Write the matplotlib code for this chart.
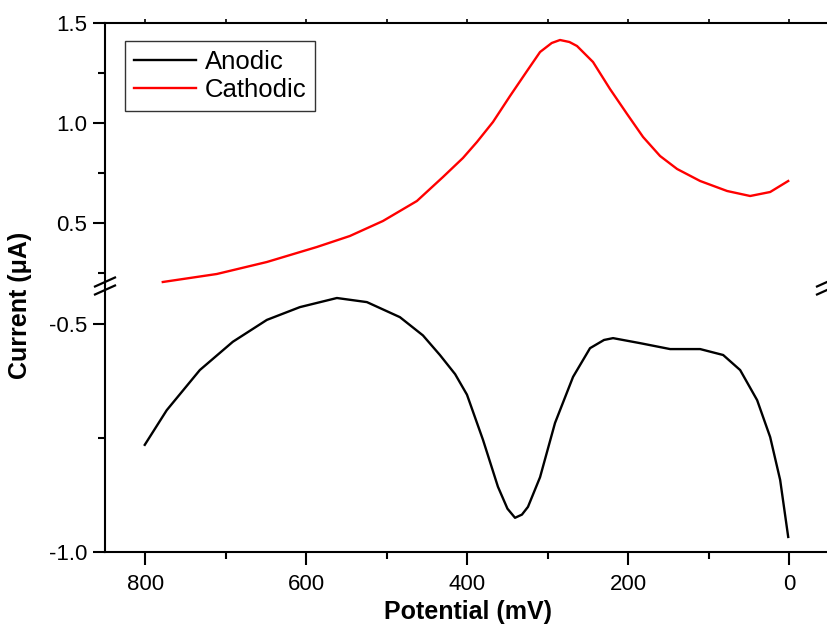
import matplotlib.pyplot as plt
from matplotlib.ticker import MultipleLocator

plt.rcParams['font.family'] = ['Liberation Sans', 'DejaVu Sans']

# potential (mV) / current (uA)
anodic_x = [800.6, 773.3, 732.2, 691.2, 648.9, 607.9, 561.9, 524.6, 483.6, 455.0, 433.9,
            415.0, 400.3, 380.4, 361.8, 350.0, 340.6, 332.0, 324.5, 309.5, 290.9, 268.5, 247.4,
            230.0, 218.8, 185.2, 147.9, 110.6, 82.0, 60.9, 39.8, 23.6, 11.2, 1.2]
anodic_y = [-0.765, -0.689, -0.601, -0.539, -0.491, -0.463, -0.443, -0.452, -0.485, -0.525, -0.568,
            -0.61, -0.655, -0.754, -0.857, -0.905, -0.925, -0.918, -0.901, -0.836, -0.717, -0.616,
            -0.553, -0.535, -0.531, -0.542, -0.555, -0.555, -0.568, -0.601, -0.667, -0.748,
            -0.842, -0.967]

cathodic_x = [778.2, 711.1, 648.9, 586.8, 545.8, 504.7, 462.5, 430.1, 405.3, 387.9,
              368.0, 346.8, 325.7, 309.5, 295.0, 284.7, 273.0, 263.6, 243.7, 222.6, 201.4,
              181.5, 160.4, 139.2, 110.6, 77.1, 48.5, 23.6, 1.2]
cathodic_y = [0.205, 0.245, 0.305, 0.38, 0.435, 0.51, 0.61, 0.73, 0.825, 0.905,
              1.005, 1.135, 1.26, 1.355, 1.40, 1.415, 1.405, 1.385, 1.305, 1.17, 1.045,
              0.93, 0.835, 0.77, 0.71, 0.66, 0.635, 0.655, 0.71]

W, H = 827, 635
fig = plt.figure(figsize=(W / 100, H / 100), dpi=100)

left = 105 / W
top_y, brk_y, bot_y = 23, 286, 552
ax_top = fig.add_axes([left, 1 - brk_y / H, 1 - left, (brk_y - top_y) / H])
ax_bot = fig.add_axes([left, 1 - bot_y / H, 1 - left, (bot_y - brk_y) / H], sharex=ax_top)

for ax in (ax_top, ax_bot):
    ax.spines['right'].set_visible(False)
    for s in ax.spines.values():
        s.set_linewidth(1.5)
    ax.set_xlim(850, -47)

ax_top.spines['bottom'].set_visible(False)
ax_bot.spines['top'].set_visible(False)

l1, = ax_bot.plot(anodic_x, anodic_y, color='black', lw=1.7, label='Anodic')
l2, = ax_top.plot(cathodic_x, cathodic_y, color='red', lw=1.7, label='Cathodic')

ax_top.set_ylim(1.5 - (brk_y - top_y) / 200, 1.5)
ax_bot.set_ylim(-1.0, -1.0 + (bot_y - brk_y) / 456)

ax_top.yaxis.set_major_locator(MultipleLocator(0.5))
ax_top.yaxis.set_minor_locator(MultipleLocator(0.25))
ax_bot.yaxis.set_major_locator(MultipleLocator(0.5))
ax_bot.yaxis.set_minor_locator(MultipleLocator(0.25))
ax_bot.xaxis.set_major_locator(MultipleLocator(200))
ax_bot.xaxis.set_minor_locator(MultipleLocator(100))
ax_bot.xaxis.set_major_formatter(plt.FuncFormatter(lambda v, p: f'{v:.0f}'))
ax_top.yaxis.set_major_formatter(plt.FuncFormatter(lambda v, p: f'{v:.1f}'))
ax_bot.yaxis.set_major_formatter(plt.FuncFormatter(lambda v, p: f'{v:.1f}'))

ax_top.tick_params(axis='x', which='both', bottom=False, labelbottom=False,
                   top=True, direction='out', length=3, width=1.2)
ax_bot.tick_params(axis='x', which='major', direction='out', length=9, width=1.5,
                   labelsize=16, pad=7)
ax_bot.tick_params(axis='x', which='minor', direction='out', length=5, width=1.5)
for ax in (ax_top, ax_bot):
    ax.tick_params(axis='y', which='major', direction='out', length=9, width=1.5,
                   labelsize=16, pad=4)
    ax.tick_params(axis='y', which='minor', direction='out', length=5, width=1.5)

# break marks on both sides
for xf in (left, 1.0):
    for dy in (-4, 4):
        yc = 1 - (brk_y + dy) / H
        fig.add_artist(plt.Line2D([xf - 10 / W, xf + 10 / W], [yc - 4.5 / H, yc + 4.5 / H],
                                  color='black', lw=1.6, transform=fig.transFigure,
                                  clip_on=False))

leg = ax_top.legend(handles=[l1, l2], loc='upper left', bbox_to_anchor=(20 / 722, 1 - 18 / 263),
                    fontsize=18.5, frameon=True, fancybox=False, edgecolor='black',
                    handlelength=2.4, handletextpad=0.35, borderpad=0.35, labelspacing=0.15,
                    borderaxespad=0)
leg.get_frame().set_linewidth(1.0)

fig.text(468 / W, 1 - 612 / H, 'Potential (mV)', ha='center', va='center',
         fontsize=18, fontweight='bold')
fig.text(20 / W, 1 - 305 / H, 'Current (μA)', ha='center', va='center',
         rotation=90, fontsize=18, fontweight='bold')

fig.savefig('out.png', dpi=100)
